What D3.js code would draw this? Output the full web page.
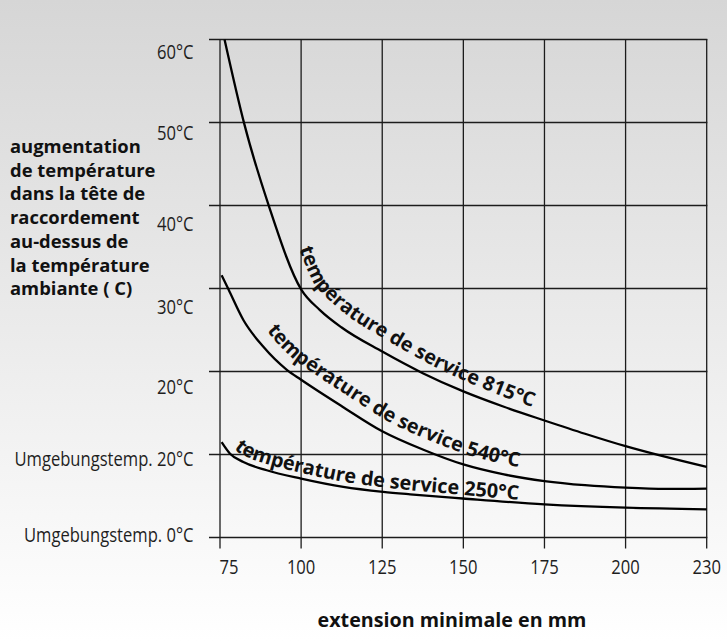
<!DOCTYPE html>
<html>
<head>
<meta charset="utf-8">
<script src="https://d3js.org/d3.v7.min.js"></script>
<style>
    body { margin: 0; padding: 0; background: #fff; }
    svg { display: block; }
    .tick-label { font-family: "Open Sans"; font-size: 20px; fill: #1e1e1e; }
    .axis-title { font-family: "Open Sans"; font-weight: bold; font-size: 18.4px; fill: #111; }
    .curve-label { font-family: "Open Sans"; font-weight: bold; font-size: 19.8px; fill: #111; }
</style>
</head>
<body>
<script>
var width = 727,
    height = 641;

// x: extension in mm (the last step 200 -> 230 is drawn with the same spacing)
var xTicks = [75, 100, 125, 150, 175, 200, 230];
// y: gridlines, bottom to top
var yTicks = [0, 10, 20, 30, 40, 50, 60];
var yTickLabels = ["Umgebungstemp.  0°C", "Umgebungstemp. 20°C", "20°C", "30°C", "40°C", "50°C", "60°C"];

var yTitleLines = ["augmentation", "de température", "dans la tête de", "raccordement",
                   "au-dessus de", "la température", "ambiante ( C)"];
var xTitle = "extension minimale en mm";

var curveNames = ["température de service 815°C", "température de service 540°C", "température de service 250°C"];

// [extension mm, value on the grid]
var service815 = [[76.4, 60.0], [82.5, 49.8], [90.1, 39.9], [100, 29.9], [105.8, 27.4], [112.5, 25.3],
                  [125, 22.4], [137.5, 19.8], [150, 17.6], [162.5, 15.75], [175, 14.1], [187.5, 12.5],
                  [200, 11.0], [230, 8.5]];
var service540 = [[75.5, 31.6], [77.6, 29.9], [82.2, 26.2], [88.3, 23.0], [95.6, 20.2], [100, 19.0],
                  [113, 15.7], [125, 12.8], [137.5, 10.6], [150, 8.8], [162.5, 7.6], [175, 6.8],
                  [187.5, 6.3], [200, 6.0], [215, 5.85], [230, 5.9]];
var service250 = [[75.5, 11.5], [78.1, 10.1], [82.2, 9.1], [89.4, 8.1], [100, 7.1], [113, 6.1],
                  [125.3, 5.5], [133.6, 5.2], [149.8, 4.7], [175, 4.0], [200, 3.6], [230, 3.4]];

var svg = d3.select("body").append("svg")
    .attr("width", width)
    .attr("height", height);

var defs = svg.append("defs");
var grad = defs.append("linearGradient")
    .attr("id", "bg")
    .attr("x1", 0).attr("y1", 0).attr("x2", 0).attr("y2", 1);
grad.append("stop").attr("offset", "0%").attr("stop-color", "#d6d6d6");
grad.append("stop").attr("offset", "100%").attr("stop-color", "#ffffff");

svg.append("rect")
    .attr("width", width)
    .attr("height", height)
    .attr("fill", "url(#bg)");

// scales
var xPos = d3.scalePoint().domain(xTicks).range([220, 706.7]);
var x = d3.scaleLinear().domain(xTicks).range(xTicks.map(xPos));
var y = d3.scaleLinear().domain([0, 60]).range([537.5, 39.5]);

// grid
svg.selectAll(".hgrid")
    .data(yTicks)
    .enter()
    .append("line")
    .attr("class", "hgrid")
    .attr("x1", 209)
    .attr("x2", x(230) + 0.6)
    .attr("y1", function(d) { return y(d); })
    .attr("y2", function(d) { return y(d); })
    .attr("stroke", "#1c1c1c")
    .attr("stroke-width", 1.3);

svg.selectAll(".vgrid")
    .data(xTicks)
    .enter()
    .append("line")
    .attr("class", "vgrid")
    .attr("x1", function(d) { return x(d); })
    .attr("x2", function(d) { return x(d); })
    .attr("y1", y(60) - 0.6)
    .attr("y2", y(0) + 11)
    .attr("stroke", "#1c1c1c")
    .attr("stroke-width", 1.3);

// narrow the humanist font a little, like the original lettering
var squeeze = 0.83;

var yLabelDy = [4, 11, 22, 25, 25, 17, 19];
svg.selectAll(".ylab")
    .data(yTicks)
    .enter()
    .append("text")
    .attr("class", "tick-label")
    .attr("text-anchor", "end")
    .attr("transform", function(d, i) {
        return "translate(193.5," + (y(d) + yLabelDy[i]) + ") scale(" + squeeze + ",1)";
    })
    .text(function(d, i) { return yTickLabels[i]; });

svg.selectAll(".xlab")
    .data(xTicks)
    .enter()
    .append("text")
    .attr("class", "tick-label")
    .attr("text-anchor", function(d, i) { return i == 0 ? "start" : "middle"; })
    .attr("transform", function(d, i) {
        return "translate(" + (i == 0 ? x(d) - 0.5 : x(d)) + ",573.5) scale(" + squeeze + ",1)";
    })
    .text(function(d) { return d; });

// titles
svg.selectAll(".ytitle")
    .data(yTitleLines)
    .enter()
    .append("text")
    .attr("class", "axis-title")
    .attr("x", 10)
    .attr("y", function(d, i) { return 153 + i * 23.7; })
    .text(function(d) { return d; });

svg.append("text")
    .attr("class", "axis-title")
    .attr("text-anchor", "middle")
    .attr("x", 452)
    .attr("y", 626.5)
    .style("font-size", "19.7px")
    .text(xTitle);

// curves
var line = d3.line()
    .x(function(d) { return x(d[0]); })
    .y(function(d) { return y(d[1]); })
    .curve(d3.curveMonotoneX);

var curves = [
    { pts: service815, name: curveNames[0], labelAt: 95.1, off0: 15, off1: 9 },
    { pts: service540, name: curveNames[1], labelAt: 86.3, off0: 13, off1: 10 },
    { pts: service250, name: curveNames[2], labelAt: 77.8, off0: 6.5, off1: 3 }
];

curves.forEach(function(c, k) {
    var p = svg.append("path")
        .attr("d", line(c.pts))
        .attr("fill", "none")
        .attr("stroke", "#000")
        .attr("stroke-width", 2.3);

    // baseline for the label: the curve pushed up and to the right
    var node = p.node();
    var L = node.getTotalLength();
    var samples = d3.range(0, L, 1).map(function(l) { return node.getPointAtLength(l); });
    samples.push(node.getPointAtLength(L));
    var sx = x(c.labelAt);
    var si = d3.minIndex(samples, function(s) { return Math.abs(s.x - sx); });

    var shifted = [];
    for (var j = si; j < samples.length; j++) {
        var a = samples[Math.max(j - 3, 0)], b = samples[Math.min(j + 3, samples.length - 1)];
        var tx = b.x - a.x, ty = b.y - a.y;
        var n = Math.sqrt(tx * tx + ty * ty) || 1;
        var t = Math.min(1, (j - si) / 290);
        var off = c.off0 + (c.off1 - c.off0) * t;
        shifted.push([samples[j].x + off * ty / n, samples[j].y - off * tx / n]);
    }

    defs.append("path")
        .attr("id", "lbl" + k)
        .attr("d", d3.line()(shifted));

    svg.append("text")
        .attr("class", "curve-label")
        .append("textPath")
        .attr("href", "#lbl" + k)
        .text(c.name);
});
</script>
</body>
</html>
